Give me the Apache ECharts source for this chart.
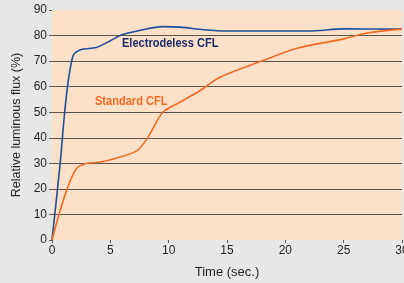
<!DOCTYPE html>
<html>
<head>
<meta charset="utf-8">
<script src="https://cdn.jsdelivr.net/npm/echarts@6/dist/echarts.min.js"></script>
<style>
html,body{margin:0;padding:0;background:#e6e7e9;}
#main{width:404px;height:283px;}
</style>
</head>
<body>
<div id="main"></div>
<script>
// time (sec.) , relative luminous flux (%)
var electrodeless = [[0,0],[0.7,30],[1.2,55],[1.8,72],[2.5,74.5],[3.8,75.3],[5,78],[6,80.3],[7.5,82],[9.5,83.5],[11,83.3],[13,82.3],[15,81.8],[18,81.8],[22,81.8],[25,82.6],[30,82.5]];
var standard = [[0,0],[0.6,10],[1.3,20],[2.1,28],[3,30],[4,30.4],[5.5,32],[7.3,35],[8.2,40],[9.5,50],[11,54],[12.7,58.5],[14.4,63.7],[18.1,70.2],[21,75],[25,78.7],[27,81],[30,82.5]];
var yTicks = [0,10,20,30,40,50,60,70,80,90];
var xTicks = [0,5,10,15,20,25,30];

var font = '"Liberation Sans Narrow", "Liberation Sans", Arial, sans-serif';
var myChart = echarts.init(document.getElementById('main'));
var gridColors = yTicks.map(function(v){ return (v===0||v===90) ? 'rgba(0,0,0,0)' : '#5a5450'; });

var option = {
  backgroundColor: '#e6e7e9',
  grid: {left:52, right:2, top:10, bottom:43, show:true, backgroundColor:'#fde0c8', borderWidth:0,
    outerBoundsMode:'none', containLabel:false},
  xAxis: {
    type:'value', min:0, max:30, interval:5,
    name:'Time (sec.)', nameLocation:'middle', nameGap:26,
    nameTextStyle:{fontFamily:font, fontSize:13, color:'#231f20'},
    axisLine:{show:false},
    axisTick:{show:true, length:3, inside:false, lineStyle:{color:'#555'}},
    axisLabel:{fontFamily:font, fontSize:12, color:'#231f20', margin:5},
    splitLine:{show:false}
  },
  yAxis: {
    type:'value', min:0, max:90, interval:10,
    name:'Relative luminous flux (%)', nameLocation:'middle', nameGap:27,
    nameTextStyle:{fontFamily:font, fontSize:12.5, color:'#231f20'},
    axisLine:{show:false},
    axisTick:{show:true, length:3, lineStyle:{color:'#555'}},
    axisLabel:{fontFamily:font, fontSize:12, color:'#231f20', margin:5},
    splitLine:{show:true, lineStyle:{color:gridColors, width:1}}
  },
  series: [
    {name:'Electrodeless CFL', type:'line', data:electrodeless, smooth:0.3, showSymbol:false,
     lineStyle:{color:'#1d4f9c', width:1.6}},
    {name:'Standard CFL', type:'line', data:standard, smooth:0.3, showSymbol:false,
     lineStyle:{color:'#f26b23', width:1.6}}
  ],
  graphic: [
    {type:'text', x:122, y:37, scaleX:0.85, style:{text:'Electrodeless CFL', fill:'#1b2a6b', font:'bold 13px '+font}},
    {type:'text', x:95, y:95, scaleX:0.85, style:{text:'Standard CFL', fill:'#f26b23', font:'bold 13px '+font}}
  ]
};
myChart.setOption(option);
</script>
</body>
</html>
